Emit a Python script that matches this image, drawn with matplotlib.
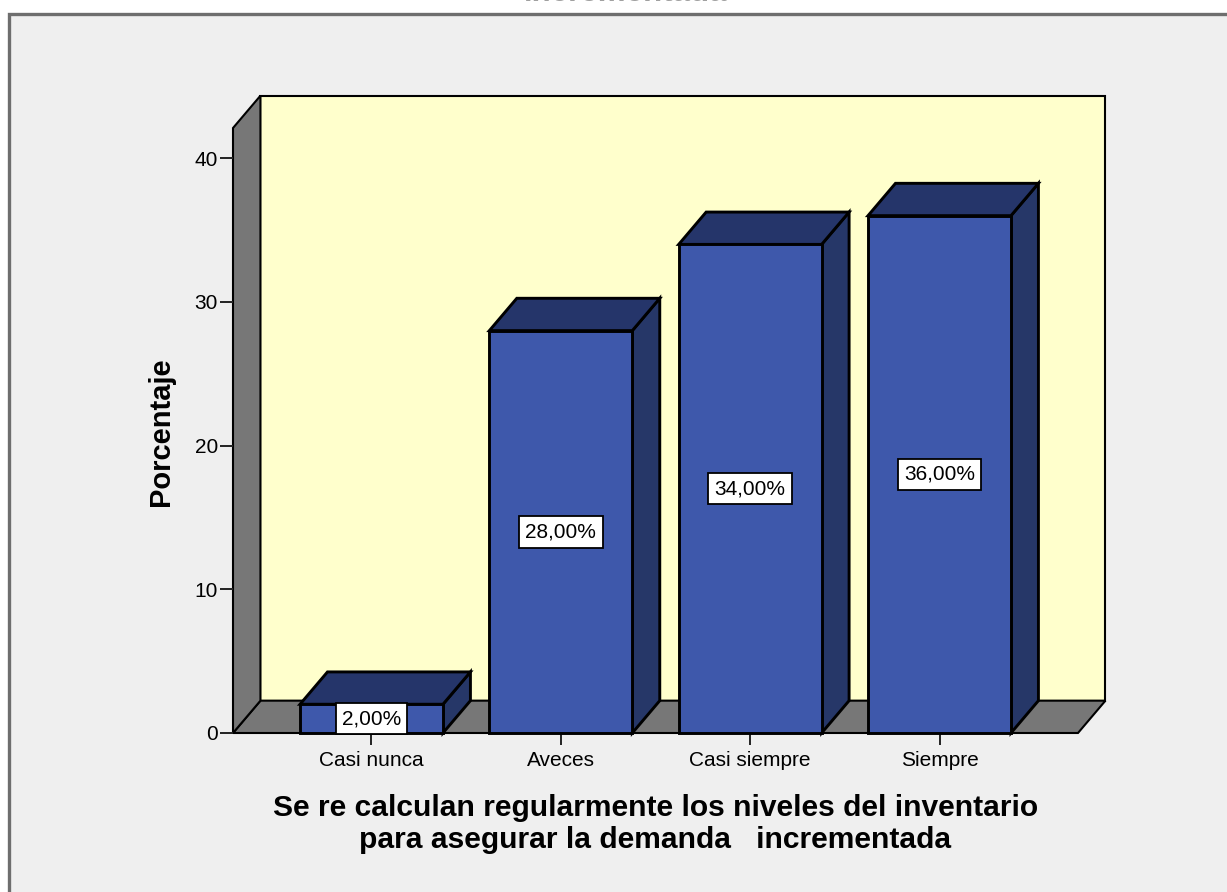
import matplotlib
matplotlib.use("Agg")
import matplotlib.pyplot as plt
from matplotlib.patches import Polygon, Rectangle

# Data
categories = ["Casi nunca", "Aveces", "Casi siempre", "Siempre"]
percentages = [2.0, 28.0, 34.0, 36.0]
y_ticks = [0, 10, 20, 30, 40]
x_title = "Se re calculan regularmente los niveles del inventario\npara asegurar la demanda   incrementada"
y_title = "Porcentaje"
top_title = "incrementada"

# Style
FONT = "Liberation Sans"
BG = "#EFEFEF"
WALL_BACK = "#FFFFCC"
WALL_GRAY = "#777777"
BAR_FRONT = "#3E58AB"
BAR_TOP = "#25356A"
BAR_SIDE = "#263768"
BAR_W = 0.755
DX, DY = 0.145, 2.25          # oblique depth offset in data units
XMIN, XMAX = -0.7315, 3.7315
YMAX = 42.1

plt.rcParams["font.family"] = [FONT, "DejaVu Sans"]

fig = plt.figure(figsize=(12.27, 8.92), dpi=100, facecolor="white")

# panel frame
fig.add_artist(Rectangle((9 / 1227, -0.05), 1.2, 1.05 - 14 / 892,
                         transform=fig.transFigure, facecolor=BG,
                         edgecolor="#6E6E6E", linewidth=2.4, zorder=0))

# tail of the chart title sitting above the panel
fig.text(626 / 1227, 1 - 0.6 / 892, top_title, ha="center", va="baseline",
         fontsize=22.5, fontweight="bold", color="#A0A0A0", zorder=-1)

ax = fig.add_axes([233 / 1227, 1 - 733 / 892, (1078 - 233) / 1227, (733 - 128) / 892])
ax.set_facecolor("none")
ax.set_xlim(XMIN, XMAX)
ax.set_ylim(0, YMAX)
for s in ax.spines.values():
    s.set_visible(False)

def poly(pts, fc, lw, z):
    ax.add_patch(Polygon(pts, closed=True, facecolor=fc, edgecolor="black",
                         linewidth=lw, joinstyle="miter", clip_on=False, zorder=z))

# back wall, floor, side wall
poly([(XMIN + DX, DY), (XMAX + DX, DY), (XMAX + DX, YMAX + DY), (XMIN + DX, YMAX + DY)],
     WALL_BACK, 1.5, 1)
poly([(XMIN, 0), (XMAX, 0), (XMAX + DX, DY), (XMIN + DX, DY)], WALL_GRAY, 1.5, 1.1)
poly([(XMIN, 0), (XMIN + DX, DY), (XMIN + DX, YMAX + DY), (XMIN, YMAX)], WALL_GRAY, 1.5, 1.2)

# 3D bars
for i, v in enumerate(percentages):
    x0, x1 = i - BAR_W / 2, i + BAR_W / 2
    poly([(x1, 0), (x1 + DX, DY), (x1 + DX, v + DY), (x1, v)], BAR_SIDE, 2.1, 2)
    poly([(x0, v), (x1, v), (x1 + DX, v + DY), (x0 + DX, v + DY)], BAR_TOP, 2.1, 2)
    ax.bar(i, v, width=BAR_W, color=BAR_FRONT, edgecolor="black", linewidth=2.1,
           zorder=2.1, clip_on=False)
    ax.text(i, v / 2, f"{v:.2f}".replace(".", ",") + "%", ha="center", va="center",
            fontsize=15, zorder=3,
            bbox=dict(boxstyle="square,pad=0.3", facecolor="white",
                      edgecolor="black", linewidth=1.3))

ax.set_yticks(y_ticks)
ax.set_yticklabels([str(t) for t in y_ticks])
ax.set_xticks(range(len(categories)))
ax.set_xticklabels(categories)
ax.tick_params(axis="y", length=9.4, width=1.4, direction="out", pad=1.5,
               labelsize=15, color="#222222")
ax.tick_params(axis="x", length=8.6, width=1.4, direction="out", pad=4,
               labelsize=15, color="#222222")

fig.text(655.5 / 1227, 1 - 824 / 892, x_title, ha="center", va="center",
         fontsize=21.6, fontweight="bold", linespacing=1.2)
fig.text(161 / 1227, 1 - 432 / 892, y_title, ha="center", va="center",
         rotation=90, fontsize=21, fontweight="bold")

fig.savefig("out.png", dpi=100, facecolor="white")
